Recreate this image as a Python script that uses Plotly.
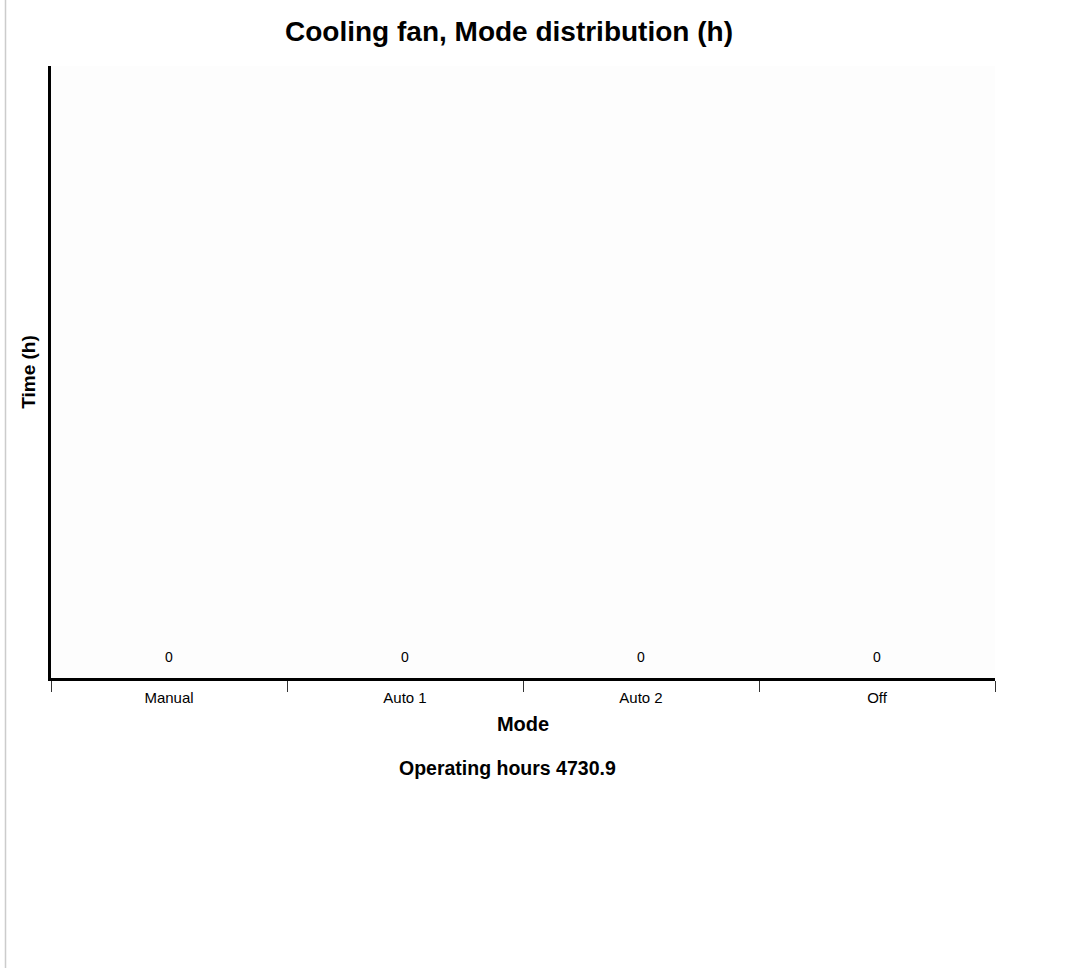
import plotly.graph_objects as go

modes = ["Manual", "Auto 1", "Auto 2", "Off"]
hours = [0, 0, 0, 0]
operating_hours = 4730.9

W, H = 1076, 972
ML, MR, MT, MB = 51, 81, 66, 294
pw = W - ML - MR
ph = H - MT - MB

FONT = "Liberation Sans, Arial, sans-serif"

fig = go.Figure()
fig.add_trace(go.Bar(
    x=modes, y=hours,
    text=[str(v) for v in hours],
    textposition="outside",
    textfont=dict(size=14, color="#000", family=FONT),
    marker=dict(color="#4a7ab5", line=dict(width=0)),
    cliponaxis=False,
    showlegend=False,
    hoverinfo="skip",
))

fig.update_layout(
    width=W, height=H,
    margin=dict(l=ML, r=MR, t=MT, b=MB),
    paper_bgcolor="white",
    plot_bgcolor="#fdfdfd",
    font=dict(family=FONT, color="#000"),
    title=dict(
        text="<b>Cooling fan, Mode distribution (h)</b>",
        font=dict(size=28, color="#000"),
        x=(509 - ML) / pw, xref="paper", xanchor="center",
        y=1 - 31 / H, yanchor="middle",
    ),
    xaxis=dict(
        title=dict(text="<b>Mode</b>", font=dict(size=20), standoff=12),
        showline=True, linecolor="#000", linewidth=3,
        ticks="outside", tickson="boundaries", ticklen=11, tickcolor="#333", tickwidth=1.2,
        tickfont=dict(size=15), ticklabelstandoff=4,
        showgrid=False, zeroline=False,
    ),
    yaxis=dict(
        title=dict(text="<b>Time (h)</b>", font=dict(size=19), standoff=8),
        showline=True, linecolor="#000", linewidth=3,
        showticklabels=False, ticks="",
        showgrid=False, zeroline=False,
        range=[-0.0166, 1],
    ),
    annotations=[dict(
        text=f"<b>Operating hours {operating_hours}</b>",
        xref="paper", yref="paper",
        x=(507 - ML) / pw, y=-(768 - (MT + ph)) / ph,
        xanchor="center", yanchor="middle",
        showarrow=False, font=dict(size=19.5, color="#000"),
    )],
    shapes=[dict(
        type="line", xref="paper", yref="paper",
        x0=(5.5 - ML) / pw, x1=(5.5 - ML) / pw,
        y0=-(968 - MT - ph) / ph, y1=(ph + MT) / ph,
        line=dict(color="#cccccc", width=1.5),
    )],
)

fig.write_html("out.html", config={"displayModeBar": False},
               post_script="document.body.style.margin='0';")
